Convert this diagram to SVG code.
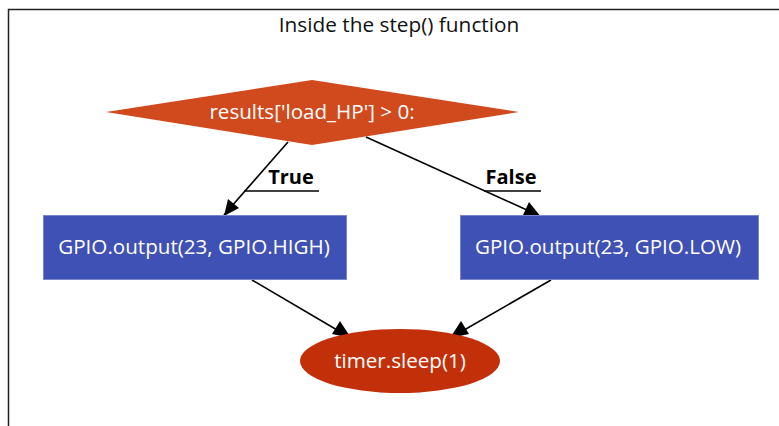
<svg xmlns="http://www.w3.org/2000/svg" width="779" height="426" viewBox="0 0 779 426">
<defs>
<style>
text{font-family:"Open Sans","Noto Sans","DejaVu Sans",sans-serif;font-size:20.6px;text-anchor:middle}
.lbl{fill:#ffffff}
.edge{stroke:#000;stroke-width:1.6;fill:none}
.el{font-weight:bold;fill:#000;font-size:20px}
.ul{stroke:#000;stroke-width:1.6}
.box{fill:#3F51B5;stroke:#7986CB;stroke-width:1}
</style>
</defs>
<rect width="779" height="426" fill="#fff"/>
<rect x="8.5" y="9.5" width="800" height="450" fill="none" stroke="#222" stroke-width="1.5"/>
<text x="399" y="32" fill="#111" style="font-size:20.8px">Inside the step() function</text>
<g id="connectors">
<line class="edge" x1="288" y1="142" x2="224" y2="215"/>
<path d="M224,216 L228,199 L239,208 z" fill="#000"/>
<line class="edge" x1="366" y1="137" x2="540" y2="216"/>
<path d="M541,217 L523,215 L529,202 z" fill="#000"/>
<line class="edge" x1="252" y1="280" x2="349" y2="337"/>
<path d="M351,338 L332,334 L340,321 z" fill="#000"/>
<line class="edge" x1="551" y1="280" x2="452" y2="337"/>
<path d="M450,338 L461,321 L469,334 z" fill="#000"/>
<text class="el" x="291" y="184">True</text>
<line class="ul" x1="244" y1="191" x2="319" y2="191"/>
<text class="el" x="511" y="184">False</text>
<line class="ul" x1="484" y1="191" x2="541" y2="191"/>
</g>
<g id="decision">
<polygon points="312,80 519,112 312,145 106,112" fill="#D14A1E"/>
<text class="lbl" x="312" y="119">results['load_HP'] &gt; 0:</text>
</g>
<g id="high">
<rect class="box" x="43.5" y="215.5" width="303" height="64"/>
<text class="lbl" x="194" y="254">GPIO.output(23, GPIO.HIGH)</text>
</g>
<g id="low">
<rect class="box" x="460.5" y="215.5" width="298" height="64"/>
<text class="lbl" x="608" y="254">GPIO.output(23, GPIO.LOW)</text>
</g>
<g id="sleep">
<ellipse cx="400" cy="361" rx="100" ry="32" fill="#C2300A"/>
<text class="lbl" x="400" y="368">timer.sleep(1)</text>
</g>
</svg>
